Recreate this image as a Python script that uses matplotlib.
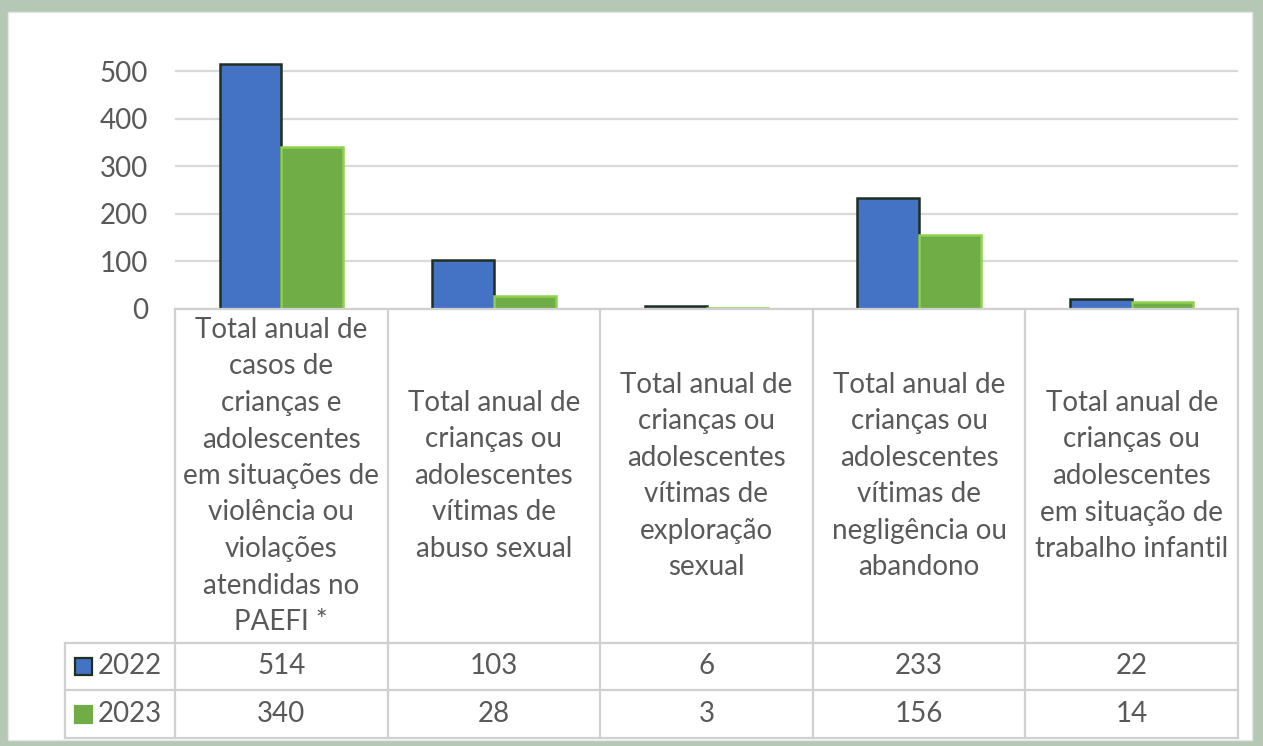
import matplotlib
matplotlib.use("Agg")
import matplotlib.pyplot as plt
from matplotlib.patches import Rectangle

categories = [
    "Total anual de\ncasos de\ncrianças e\nadolescentes\nem situações de\nviolência ou\nviolações\natendidas no\nPAEFI *",
    "Total anual de\ncrianças ou\nadolescentes\nvítimas de\nabuso sexual",
    "Total anual de\ncrianças ou\nadolescentes\nvítimas de\nexploração\nsexual",
    "Total anual de\ncrianças ou\nadolescentes\nvítimas de\nnegligência ou\nabandono",
    "Total anual de\ncrianças ou\nadolescentes\nem situação de\ntrabalho infantil",
]
series_names = ["2022", "2023"]
values_2022 = [514, 103, 6, 233, 22]
values_2023 = [340, 28, 3, 156, 14]
yticks = [0, 100, 200, 300, 400, 500]

W, H = 1263, 746
FONT = "Lato"
FS = 20
TXT = "#595959"
GRID = "#d9d9d9"
BLUE = "#4472C4"
BLUE_EDGE = "#1f2f22"
GREEN = "#70AD47"
GREEN_EDGE = "#8ed24f"

plt.rcParams["font.family"] = [FONT, "DejaVu Sans"]

fig = plt.figure(figsize=(W / 100, H / 100), dpi=100)
fig.patch.set_facecolor("#b5c8b6")
fig.patches.append(Rectangle((8 / W, 1 - 740 / H), (1252 - 8) / W, (740 - 12) / H,
                             transform=fig.transFigure, facecolor="white",
                             edgecolor="#e6e6e6", lw=1, zorder=-5))

def fx(px):
    return px / W

def fy(py):
    return 1 - py / H

# main chart axes
x_left, x_right = 175, 1238
y_zero = 309
px_per_unit = (309 - 71) / 500.0
ymax = 520
y_top = y_zero - ymax * px_per_unit
ax = fig.add_axes([fx(x_left), fy(y_zero), fx(x_right) - fx(x_left), fy(y_top) - fy(y_zero)])
ax.set_facecolor("none")
n = len(categories)
xs = list(range(n))
bw = 0.29
ax.bar([x - bw / 2 for x in xs], values_2022, width=bw, color=BLUE, edgecolor=BLUE_EDGE,
       linewidth=1.8, zorder=3)
ax.bar([x + bw / 2 for x in xs], values_2023, width=bw, color=GREEN, edgecolor=GREEN_EDGE,
       linewidth=1.8, zorder=3)
ax.set_xlim(-0.5, n - 0.5)
ax.set_ylim(0, ymax)
ax.set_yticks(yticks)
ax.set_yticklabels([str(v) for v in yticks], color=TXT, fontsize=FS)
ax.set_xticks([])
ax.tick_params(axis="y", length=0, pad=19.5)
for s in ax.spines.values():
    s.set_visible(False)
ax.yaxis.grid(True, color=GRID, linewidth=1.6, zorder=0)
ax.set_axisbelow(True)

# data table axes
t_left, t_bottom = 65, 738
col_w = (x_right - x_left) / n
legend_w = (x_left - t_left) / col_w
tax = fig.add_axes([fx(t_left), fy(t_bottom), fx(x_right) - fx(t_left), fy(y_zero) - fy(t_bottom)])
tax.set_facecolor("none")
tax.set_xlim(-0.5 - legend_w, n - 0.5)
tax.set_ylim(t_bottom, y_zero)
tax.axis("off")
row1, row2 = 643, 690
lc = "#d0d0d0"
lw = 1.6
tax.plot([-0.5, n - 0.5], [y_zero, y_zero], color=lc, lw=lw, clip_on=False)
for yy in (row1, row2, t_bottom):
    tax.plot([-0.5 - legend_w, n - 0.5], [yy, yy], color=lc, lw=lw, clip_on=False)
for i in range(n + 1):
    tax.plot([i - 0.5, i - 0.5], [y_zero, t_bottom], color=lc, lw=lw, clip_on=False)
tax.plot([-0.5 - legend_w] * 2, [row1, t_bottom], color=lc, lw=lw, clip_on=False)

for i, cat in enumerate(categories):
    tax.text(i, (y_zero + row1) / 2, cat, ha="center", va="center", fontsize=FS,
             color=TXT, linespacing=1.5)
    tax.text(i, (row1 + row2) / 2, str(values_2022[i]), ha="center", va="center",
             fontsize=FS, color=TXT)
    tax.text(i, (row2 + t_bottom) / 2, str(values_2023[i]), ha="center", va="center",
             fontsize=FS, color=TXT)

sq = 17
for (name, fc, ec, yc) in [(series_names[0], BLUE, BLUE_EDGE, (row1 + row2) / 2),
                           (series_names[1], GREEN, GREEN, (row2 + t_bottom) / 2)]:
    fig.patches.append(Rectangle((fx(75), fy(yc + sq / 2)), sq / W, sq / H,
                                 transform=fig.transFigure, facecolor=fc, edgecolor=ec,
                                 lw=1.6, zorder=5))
    fig.text(fx(98), fy(yc), name, ha="left", va="center", fontsize=FS, color=TXT)

fig.savefig("out.png", dpi=100, facecolor=fig.get_facecolor())
